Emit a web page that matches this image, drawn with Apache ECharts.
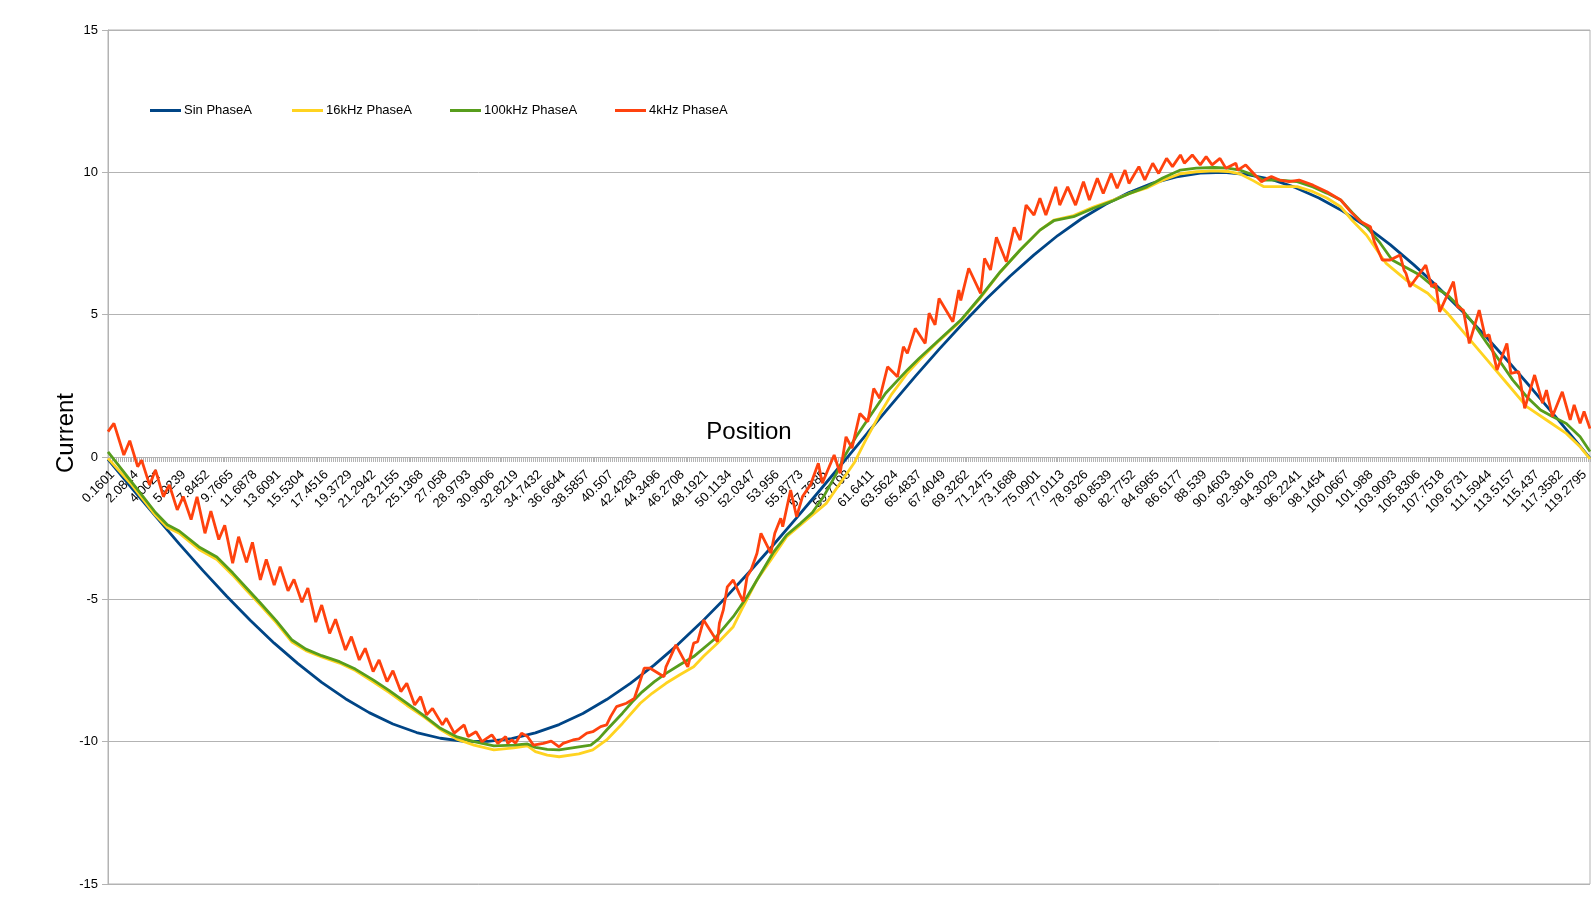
<!DOCTYPE html>
<html><head><meta charset="utf-8">
<script src="https://cdn.jsdelivr.net/npm/echarts@6/dist/echarts.min.js"></script>
<style>html,body{margin:0;padding:0;background:#fff}#c{width:1591px;height:915px}</style>
</head><body><div id="c"></div><script>
const tickLabels = ['0.1601','2.0814','4.0027','5.9239','7.8452','9.7665','11.6878','13.6091','15.5304','17.4516','19.3729','21.2942','23.2155','25.1368','27.058','28.9793','30.9006','32.8219','34.7432','36.6644','38.5857','40.507','42.4283','44.3496','46.2708','48.1921','50.1134','52.0347','53.956','55.8773','57.7985','59.7198','61.6411','63.5624','65.4837','67.4049','69.3262','71.2475','73.1688','75.0901','77.0113','78.9326','80.8539','82.7752','84.6965','86.6177','88.539','90.4603','92.3816','94.3029','96.2241','98.1454','100.0667','101.988','103.9093','105.8306','107.7518','109.6731','111.5944','113.5157','115.437','117.3582','119.2795'];
const categoryCount = 750;
const labelEvery = 12;
const seriesNames = ['Sin PhaseA','16kHz PhaseA','100kHz PhaseA','4kHz PhaseA'];
const seriesColors = ['#004586','#ffd320','#579d1c','#ff420e'];

// [category index, current]
const sinPhaseA = [[0,-0.08],[12,-1.09],[24,-2.08],[36,-3.05],[48,-3.99],[60,-4.89],[72,-5.74],[84,-6.54],[96,-7.26],[108,-7.92],[120,-8.49],[132,-8.98],[144,-9.38],[156,-9.68],[168,-9.88],[180,-9.99],[192,-9.99],[204,-9.89],[216,-9.69],[228,-9.40],[240,-9.01],[252,-8.52],[264,-7.95],[276,-7.31],[288,-6.59],[300,-5.80],[312,-4.95],[324,-4.05],[336,-3.11],[348,-2.14],[360,-1.15],[372,-0.15],[384,0.86],[396,1.85],[408,2.83],[420,3.78],[432,4.69],[444,5.56],[456,6.36],[468,7.10],[480,7.78],[492,8.37],[504,8.87],[516,9.29],[528,9.62],[540,9.84],[552,9.97],[564,10.0],[576,9.92],[588,9.75],[600,9.47],[612,9.10],[624,8.64],[636,8.09],[648,7.46],[660,6.75],[672,5.98],[684,5.15],[696,4.26],[708,3.33],[720,2.37],[732,1.38],[744,0.38],[749,-0.04]];

const phase16k = [[0,-0.05],[12,-0.98],[24,-2.05],[30,-2.48],[36,-2.68],[46,-3.25],[55,-3.6],[63,-4.15],[70,-4.68],[77,-5.2],[85,-5.82],[93,-6.5],[100,-6.8],[108,-7.02],[117,-7.24],[125,-7.5],[134,-7.9],[142,-8.27],[151,-8.72],[160,-9.15],[168,-9.57],[176,-9.9],[185,-10.12],[195,-10.29],[205,-10.22],[212,-10.15],[216,-10.35],[222,-10.47],[228,-10.53],[238,-10.43],[245,-10.29],[252,-9.94],[260,-9.36],[269,-8.65],[275,-8.3],[282,-7.95],[289,-7.65],[296,-7.37],[301,-7.0],[308,-6.54],[316,-5.96],[321,-5.26],[328,-4.32],[335,-3.62],[343,-2.8],[353,-2.21],[363,-1.63],[370,-0.92],[377,-0.22],[383,0.6],[390,1.5],[396,2.2],[404,2.95],[410,3.4],[420,4.08],[431,4.78],[441,5.6],[451,6.5],[461,7.27],[471,7.97],[478,8.32],[488,8.48],[498,8.78],[508,9.03],[516,9.25],[525,9.45],[533,9.72],[542,9.95],[550,10.02],[559,10.05],[566,10.03],[572,9.95],[579,9.7],[584,9.5],[592,9.5],[601,9.5],[609,9.32],[616,9.1],[623,8.79],[629,8.3],[636,7.8],[646,6.8],[656,6.22],[667,5.75],[677,5.05],[687,4.23],[697,3.41],[707,2.59],[717,1.77],[727,1.3],[737,0.83],[744,0.36],[749,-0.07]];

const phase100k = [[0,0.18],[12,-0.88],[24,-1.95],[30,-2.38],[36,-2.6],[46,-3.16],[55,-3.51],[63,-4.07],[70,-4.6],[77,-5.13],[85,-5.75],[93,-6.43],[100,-6.75],[108,-6.98],[117,-7.19],[125,-7.45],[134,-7.83],[142,-8.2],[151,-8.65],[160,-9.1],[168,-9.53],[176,-9.82],[185,-10.0],[195,-10.15],[205,-10.12],[212,-10.08],[216,-10.2],[222,-10.27],[228,-10.29],[238,-10.18],[244,-10.12],[248,-9.9],[252,-9.59],[260,-9.0],[265,-8.6],[270,-8.25],[276,-7.9],[282,-7.6],[289,-7.3],[296,-7.01],[306,-6.43],[316,-5.61],[323,-4.91],[329,-4.2],[336,-3.38],[343,-2.74],[350,-2.33],[356,-1.95],[362,-1.35],[368,-0.6],[372,0.0],[378,0.7],[385,1.42],[393,2.24],[404,3.06],[410,3.47],[420,4.11],[431,4.81],[441,5.63],[451,6.51],[461,7.27],[471,7.97],[478,8.3],[488,8.44],[498,8.74],[508,9.0],[516,9.25],[525,9.49],[533,9.8],[542,10.08],[550,10.15],[559,10.17],[566,10.15],[572,10.08],[579,9.9],[584,9.73],[592,9.73],[601,9.67],[609,9.49],[616,9.27],[623,9.03],[629,8.57],[636,8.09],[643,7.51],[649,6.92],[656,6.66],[663,6.39],[670,5.98],[677,5.69],[683,5.28],[690,4.7],[697,3.99],[703,3.41],[710,2.7],[717,2.12],[724,1.65],[730,1.42],[737,1.18],[744,0.71],[749,0.19]];

const phase4k = [[0,0.89],[3,1.18],[8,0.07],[11,0.57],[15,-0.34],[17,-0.11],[21,-0.98],[24,-0.46],[28,-1.39],[31,-0.98],[35,-1.86],[38,-1.39],[42,-2.2],[45,-1.4],[49,-2.68],[52,-1.9],[56,-2.9],[59,-2.4],[63,-3.73],[66,-2.8],[70,-3.7],[73,-3.0],[77,-4.32],[80,-3.6],[84,-4.5],[87,-3.85],[91,-4.7],[94,-4.3],[98,-5.1],[101,-4.6],[105,-5.8],[108,-5.2],[112,-6.2],[115,-5.7],[120,-6.78],[123,-6.31],[127,-7.13],[130,-6.72],[134,-7.54],[137,-7.13],[141,-7.89],[144,-7.51],[148,-8.24],[151,-7.95],[155,-8.71],[158,-8.42],[161,-9.06],[164,-8.83],[169,-9.41],[171,-9.18],[175,-9.7],[180,-9.41],[182,-9.82],[186,-9.65],[189,-10.0],[194,-9.76],[197,-10.06],[201,-9.82],[202,-10.06],[204,-9.94],[206,-10.05],[209,-9.7],[212,-9.82],[215,-10.12],[220,-10.06],[224,-9.98],[228,-10.18],[230,-10.06],[235,-9.94],[238,-9.9],[242,-9.7],[245,-9.65],[249,-9.47],[252,-9.41],[254,-9.12],[257,-8.77],[262,-8.65],[266,-8.48],[268,-8.07],[271,-7.42],[274,-7.42],[281,-7.72],[282,-7.37],[284,-7.07],[287,-6.6],[293,-7.37],[296,-6.54],[298,-6.49],[301,-5.73],[308,-6.49],[309,-5.84],[311,-5.37],[313,-4.56],[316,-4.32],[319,-4.79],[321,-5.08],[323,-4.2],[325,-3.97],[328,-3.38],[330,-2.68],[335,-3.38],[337,-2.68],[340,-2.15],[341,-2.45],[345,-1.16],[348,-2.1],[351,-1.39],[355,-0.98],[359,-0.22],[361,-0.92],[367,0.07],[370,-0.57],[373,0.71],[376,0.31],[380,1.53],[384,1.24],[387,2.41],[390,2.06],[394,3.17],[399,2.82],[402,3.87],[404,3.64],[408,4.52],[413,3.99],[415,5.05],[418,4.64],[420,5.57],[427,4.75],[430,5.87],[431,5.5],[435,6.63],[441,5.75],[443,6.98],[446,6.57],[449,7.72],[454,6.86],[458,8.07],[461,7.62],[464,8.85],[468,8.5],[471,9.09],[474,8.5],[479,9.49],[481,8.85],[485,9.49],[489,8.85],[493,9.67],[496,9.03],[500,9.79],[503,9.26],[507,9.96],[510,9.44],[514,10.08],[516,9.61],[521,10.2],[524,9.73],[528,10.32],[531,9.96],[535,10.49],[538,10.2],[542,10.61],[544,10.32],[548,10.61],[552,10.26],[555,10.55],[558,10.26],[562,10.49],[565,10.14],[570,10.32],[571,10.08],[575,10.26],[579,9.96],[583,9.67],[586,9.79],[588,9.85],[592,9.73],[597,9.67],[602,9.73],[609,9.55],[616,9.32],[623,9.03],[628,8.62],[633,8.27],[638,8.09],[640,7.56],[644,6.92],[648,6.92],[653,7.1],[655,6.57],[656,6.45],[658,5.98],[666,6.74],[669,5.98],[671,6.1],[673,5.1],[680,6.16],[682,5.28],[685,5.16],[688,3.99],[693,5.16],[696,4.23],[698,4.29],[702,3.06],[707,3.99],[709,2.94],[713,3.0],[716,1.71],[721,2.88],[725,1.89],[727,2.35],[730,1.42],[735,2.29],[739,1.3],[741,1.83],[744,1.18],[746,1.6],[749,1.0]];

const yMin = -15, yMax = 15, yStep = 5;

const categories = [];
for (let i = 0; i < categoryCount; i++) categories.push(i % labelEvery === 0 ? (tickLabels[i / labelEvery] || '') : '');

const font = 'Liberation Sans, Arial, sans-serif';
const legendLefts = [145, 287, 445, 610];
const dataSets = [sinPhaseA, phase16k, phase100k, phase4k];

const gridTop = 30, gridBottom = 31, chartH = 915;
const plotH = chartH - gridTop - gridBottom;
const zeroOffset = -plotH * (0 - yMin) / (yMax - yMin);

const chart = echarts.init(document.getElementById('c'), null, {renderer: 'canvas'});
chart.setOption({
  animation: false,
  backgroundColor: '#ffffff',
  color: seriesColors,
  grid: {left: 108, right: 1, top: gridTop, bottom: gridBottom, outerBoundsMode: 'none', containLabel: false, show: true, borderColor: '#b3b3b3', borderWidth: 1, backgroundColor: 'transparent'},
  legend: seriesNames.map((n, i) => ({
    data: [n], left: legendLefts[i], top: 99, icon: 'rect', itemWidth: 31, itemHeight: 3, itemGap: 0,
    textStyle: {fontFamily: font, fontSize: 13, color: '#000', padding: [0, 0, 0, -2]}
  })),
  xAxis: {
    type: 'category', data: categories, boundaryGap: false, position: 'bottom', offset: zeroOffset,
    axisLine: {onZero: false, lineStyle: {color: '#b3b3b3', width: 1}},
    axisTick: {show: true, interval: 0, length: 5, lineStyle: {color: '#b3b3b3'}},
    axisLabel: {interval: labelEvery - 1, rotate: 45, margin: 11, verticalAlign: 'top', fontFamily: font, fontSize: 13, color: '#000'},
    splitLine: {show: false}
  },
  yAxis: {
    type: 'value', min: yMin, max: yMax, interval: yStep,
    axisLine: {show: true, onZero: false, lineStyle: {color: '#b3b3b3'}},
    axisTick: {show: true, length: 6, lineStyle: {color: '#b3b3b3'}},
    axisLabel: {margin: 10, fontFamily: font, fontSize: 13, color: '#000'},
    splitLine: {show: true, lineStyle: {color: '#b3b3b3', width: 1}}
  },
  graphic: [
    {type: 'text', x: 749, y: 432, style: {text: 'Position', font: '24px ' + font, fill: '#000', textAlign: 'center', textVerticalAlign: 'middle'}},
    {type: 'text', x: 66, y: 433, rotation: Math.PI / 2, style: {text: 'Current', font: '24px ' + font, fill: '#000', textAlign: 'center', textVerticalAlign: 'middle'}}
  ],
  series: seriesNames.map((n, i) => ({
    name: n, type: 'line', data: dataSets[i], showSymbol: false, symbol: 'none',
    lineStyle: {width: 2.8, color: seriesColors[i]}, itemStyle: {color: seriesColors[i]},
    z: 2 + i
  }))
});
</script></body></html>
